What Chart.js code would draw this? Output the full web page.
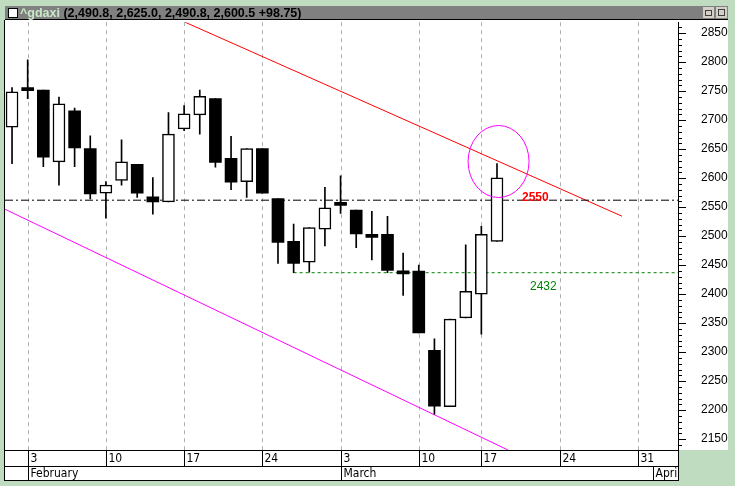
<!DOCTYPE html>
<html><head><meta charset="utf-8">
<script src="https://cdn.jsdelivr.net/npm/chart.js@4"></script>
<style>html,body{margin:0;padding:0;background:#c0dcc0;}#c{display:block;}</style>
</head><body>
<canvas id="c" width="735" height="486"></canvas>
<script>
// ---- data ----
const dates = ['Jan 31','Feb 3','Feb 4','Feb 5','Feb 6','Feb 7','Feb 10','Feb 11','Feb 12','Feb 13','Feb 14','Feb 17','Feb 18','Feb 19','Feb 20','Feb 21','Feb 24','Feb 25','Feb 26','Feb 27','Feb 28','Mar 3','Mar 4','Mar 5','Mar 6','Mar 7','Mar 10','Mar 11','Mar 12','Mar 13','Mar 17','Mar 18'];
const opens  = [2688,2753,2752,2628,2716,2651,2574,2596,2624,2568,2559,2685,2709,2737,2634,2594,2651,2565,2491,2455,2512,2557,2545,2500,2503,2437,2440,2303,2206,2359,2400,2490.8];
const highs  = [2756,2804,2752,2740,2721,2673,2594,2666,2624,2601,2713,2725,2752,2737,2672,2651,2651,2565,2521,2515,2584,2604,2545,2543,2534,2471,2450,2323,2357,2485,2517,2625.0];
const lows   = [2625,2737,2620,2588,2620,2564,2531,2588,2567,2538,2559,2682,2676,2619,2580,2567,2574,2453,2437,2438,2483,2539,2480,2459,2437,2398,2333,2193,2206,2359,2331,2490.8];
const closes = [2749,2751,2636,2728,2652,2573,2588,2628,2574,2559,2676,2711,2741,2627,2593,2651,2574,2489,2453,2515,2549,2553,2504,2498,2441,2435,2333,2207,2357,2405,2503,2600.5];
const weekIdx    = [1,6,11,16,21,26,30,35,40];
const weekLabels = ['3','10','17','24','3','10','17','24','31'];
const monthIdx    = [1,21,41];
const monthLabels = ['February','March','April'];
const yTicks = [2150,2200,2250,2300,2350,2400,2450,2500,2550,2600,2650,2700,2750,2800,2850];
const xMin = -0.45, xMax = 42.57, yMin = 2131.3, yMax = 2868.9;
const resistLine = [{x:11.06,y:2868.9},{x:38.99,y:2534.4}];
const supportLine = [{x:-0.45,y:2546.4},{x:31.7,y:2131.3}];
const level2550 = 2562, level2432 = 2437, level2432Start = 18;
const circle = {x:31.1, y:2628.7};
const header = ['^gdaxi',' (2,490.8, 2,625.0, 2,490.8, 2,600.5 +98.75)'];

const up = closes.map((c,i)=>c>=opens[i]);
const wicks = dates.map((d,i)=>({x:i,y:[lows[i],highs[i]]}));
const bodies = dates.map((d,i)=>({x:i,y:[opens[i],closes[i]]}));

const frame = {
  id:'frame',
  beforeDraw(ch){
    const c=ch.ctx, a=ch.chartArea, xs=ch.scales.x;
    c.save();
    c.fillStyle='#c0dcc0'; c.fillRect(0,0,735,486);
    c.fillStyle='#fff';
    c.fillRect(5,20,723,430);
    c.fillRect(5,450,673,31);
    // header
    c.fillStyle='#808080'; c.fillRect(5,6,723,14);
    c.fillStyle='#000'; c.fillRect(5,19,723,1);
    c.fillStyle='#fff'; c.fillRect(8,8,10,10);
    c.strokeStyle='#000'; c.lineWidth=1; c.strokeRect(8.5,8.5,9,9);
    c.font='bold 12.5px "Liberation Sans", Arial, sans-serif'; c.textBaseline='middle';
    c.fillStyle='#c8e8c8'; c.fillText(header[0],20,13.5);
    const w=c.measureText(header[0]).width;
    c.fillStyle='#000'; c.fillText(header[1],20+w,13.5);
    // icons
    c.fillStyle='#d4d0c8'; c.fillRect(703,7,11,11); c.fillRect(716,7,11,11);
    c.strokeStyle='#404040'; c.strokeRect(705.5,10.5,6,5); c.strokeRect(718.5,9.5,6,6);
    // left border
    c.fillStyle='#000'; c.fillRect(4,20,1,461);
    // vertical grid
    c.strokeStyle='#b0b0b0'; c.setLineDash([4,4]);
    weekIdx.forEach(i=>{const x=Math.round(xs.getPixelForValue(i))+0.5;c.beginPath();c.moveTo(x,a.top);c.lineTo(x,a.bottom);c.stroke();});
    c.setLineDash([]);
    // bottom axis
    c.strokeStyle='#000'; c.lineWidth=1;
    c.beginPath(); c.moveTo(5,450.5); c.lineTo(678,450.5); c.moveTo(5,466.5); c.lineTo(678,466.5); c.moveTo(5,480.5);c.lineTo(678,480.5); c.stroke();
    c.font='12px "Liberation Sans Narrow", "DejaVu Sans Condensed", sans-serif'; c.fillStyle='#000';
    weekIdx.forEach((i,k)=>{const x=Math.round(xs.getPixelForValue(i))+0.5;c.beginPath();c.moveTo(x,450);c.lineTo(x,466);c.stroke();c.fillText(weekLabels[k],x+2,459);});
    monthIdx.forEach((i,k)=>{const x=Math.round(xs.getPixelForValue(i))+0.5;c.beginPath();c.moveTo(x,466);c.lineTo(x,481);c.stroke();
      c.save();c.beginPath();c.rect(x,466,678-x,15);c.clip();c.fillText(monthLabels[k],x+2,474);c.restore();});
    c.beginPath();c.moveTo(678.5,450);c.lineTo(678.5,481);c.stroke();
    c.restore();
  },
  afterDraw(ch){
    const c=ch.ctx, ys=ch.scales.y, xs=ch.scales.x, a=ch.chartArea;
    c.save();
    // y axis ticks
    c.strokeStyle='#000'; c.lineWidth=1;
    for(let v=2140;v<=2860;v+=10){const y=Math.round(ys.getPixelForValue(v))+0.5; if(y<a.top||y>a.bottom)continue;
      c.beginPath();c.moveTo(678,y);c.lineTo(v%50===0?686:682,y);c.stroke();}
    // ellipse
    c.strokeStyle='#ff00ff'; c.beginPath();
    c.ellipse(xs.getPixelForValue(circle.x),ys.getPixelForValue(circle.y),30.5,36,0,0,Math.PI*2); c.stroke();
    // labels
    c.font='bold 12px "Liberation Sans", Arial, sans-serif'; c.fillStyle='#ff0000'; c.textBaseline='middle';
    c.fillText('2550',522,198);
    c.font='12px "Liberation Sans", Arial, sans-serif'; c.fillStyle='#008000';
    c.fillText('2432',530,287);
    c.restore();
  }
};

new Chart(document.getElementById('c'),{
  type:'bar',
  data:{datasets:[
    {type:'line',data:resistLine,borderColor:'#ff0000',borderWidth:1,pointRadius:0,order:5},
    {type:'line',data:supportLine,borderColor:'#ff00ff',borderWidth:1,pointRadius:0,order:5},
    {type:'line',data:[{x:xMin,y:level2550},{x:xMax,y:level2550}],borderColor:'#000',borderWidth:1,borderDash:[8,3,2,3],pointRadius:0,order:4},
    {type:'line',data:[{x:level2432Start,y:level2432},{x:xMax,y:level2432}],borderColor:'#008000',borderWidth:1,borderDash:[3,3],pointRadius:0,order:4},
    {data:wicks,backgroundColor:'#000',barThickness:1,grouped:false,order:3},
    {data:bodies,backgroundColor:up.map(u=>u?'#fff':'#000'),borderColor:'#000',borderWidth:up.map(u=>u?1.5:0),borderSkipped:false,barThickness:12,minBarLength:3,grouped:false,order:1}
  ]},
  options:{
    responsive:false,animation:false,
    layout:{padding:{left:5,top:20,bottom:36,right:7}},
    plugins:{legend:{display:false},tooltip:{enabled:false}},
    scales:{
      x:{type:'linear',min:xMin,max:xMax,display:false,offset:false},
      y:{position:'right',min:yMin,max:yMax,
        afterBuildTicks(s){s.ticks=yTicks.map(v=>({value:v}));},
        afterFit(s){s.width=50;},
        grid:{display:false},
        border:{display:true,color:'#000',width:1},
        ticks:{autoSkip:false,padding:15,color:'#000',callback:v=>String(v),font:{family:'"Liberation Sans", Arial, sans-serif',size:12}}
      }
    }
  },
  plugins:[frame]
});
</script>
</body></html>
